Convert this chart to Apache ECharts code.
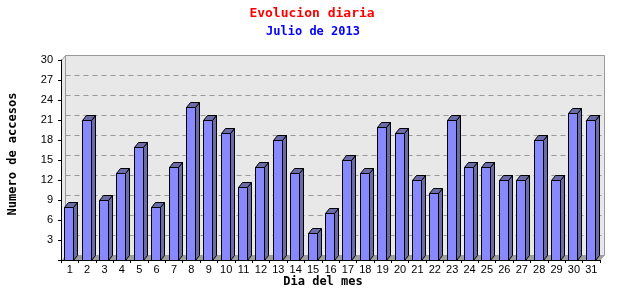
<!DOCTYPE html>
<html><head><meta charset="utf-8">
<script src="https://cdn.jsdelivr.net/npm/echarts@6/dist/echarts.min.js"></script>
<style>html,body{margin:0;padding:0;background:#fff}#c{width:640px;height:300px}</style>
</head><body><div id="c"></div>
<script>
const titleText = 'Evolucion diaria';
const subtitleText = 'Julio de 2013';
const yName = 'Numero de accesos';
const xName = 'Dia del mes';
const days = ['1','2','3','4','5','6','7','8','9','10','11','12','13','14','15','16','17','18','19','20','21','22','23','24','25','26','27','28','29','30','31'];
const visits = [8,21,9,13,17,8,14,23,21,19,11,14,18,13,4,7,15,13,20,19,12,10,21,14,14,12,12,18,12,22,21];
const yMin = 0, yMax = 30, yStep = 3;

const DX = 4, DY = 5, BAR_W = 9;
const mono = '"DejaVu Sans Mono", monospace';

function px(v){ return Math.round(v) + 0.5; }

function renderWall(params, api){
  const bw = api.size([1, 0])[0];
  const p0 = api.coord([0, yMin]);
  const pN = api.coord([days.length - 1, yMin]);
  const xl = px(p0[0] - bw/2), xr = px(pN[0] + bw/2);
  const yb = px(p0[1]);
  const yt = px(api.coord([0, yMax])[1]);
  const ch = [];
  // left wall
  ch.push({type:'polygon', shape:{points:[[xl,yt],[xl+DX,yt-DY],[xl+DX,yb-DY],[xl,yb]]}, style:{fill:'#e8e8e8'}});
  // back wall
  ch.push({type:'rect', shape:{x:xl+DX, y:yt-DY, width:xr-xl, height:yb-yt}, style:{fill:'#e8e8e8', stroke:'#999', lineWidth:1}});
  // floor
  ch.push({type:'polygon', shape:{points:[[xl,yb],[xl+DX,yb-DY],[xr+DX,yb-DY],[xr,yb]]}, style:{fill:'#a0a0a0'}});
  // grid lines
  for (let v = yMin + yStep; v < yMax; v += yStep) {
    const y = px(api.coord([0, v])[1]) - DY;
    ch.push({type:'line', shape:{x1:xl+DX, y1:y, x2:xr+DX, y2:y}, style:{stroke:'#999', lineWidth:1, lineDash:[5,4]}});
  }
  // top-left diagonal
  ch.push({type:'line', shape:{x1:xl, y1:yt, x2:xl+DX, y2:yt-DY}, style:{stroke:'#999', lineWidth:1}});
  return {type:'group', children:ch};
}

function renderBar(params, api){
  const i = api.value(0), v = api.value(1);
  const top = api.coord([i, v]);
  const base = api.coord([i, yMin]);
  const x0 = px(top[0] - 5.5), x1 = x0 + BAR_W;
  const yt = px(top[1]), yb = px(base[1]);
  const dark = '#6b6ba8';
  return {type:'group', children:[
    {type:'polygon', shape:{points:[[x1,yt],[x1+DX,yt-DY],[x1+DX,yb-DY],[x1,yb]]}, style:{fill:dark, stroke:'#000', lineWidth:1}},
    {type:'polygon', shape:{points:[[x0,yt],[x0+DX,yt-DY],[x1+DX,yt-DY],[x1,yt]]}, style:{fill:dark, stroke:'#000', lineWidth:1}},
    {type:'rect', shape:{x:x0, y:yt, width:BAR_W, height:yb-yt}, style:{fill:'#8888ff', stroke:'#000', lineWidth:1}}
  ]};
}

const chart = echarts.init(document.getElementById('c'), null, {renderer:'canvas'});
chart.setOption({
  animation:false,
  backgroundColor:'#fff',
  grid:{left:61, right:40, top:60, bottom:40},
  xAxis:{
    type:'category', data:days, boundaryGap:true,
    axisLine:{show:true, lineStyle:{color:'#000', width:1}},
    axisTick:{show:true, length:3, lineStyle:{color:'#000'}},
    axisLabel:{color:'#000', fontSize:11, fontFamily:'"Liberation Sans", sans-serif', margin:4, interval:0},
    splitLine:{show:false}, z:10
  },
  yAxis:{
    type:'value', min:yMin, max:yMax, interval:yStep,
    axisLine:{show:true, lineStyle:{color:'#000', width:1}},
    axisTick:{show:true, length:3, lineStyle:{color:'#000'}},
    axisLabel:{color:'#000', fontSize:11, fontFamily:'"Liberation Sans", sans-serif', margin:8,
      formatter: v => v === 0 ? '' : String(v)},
    splitLine:{show:false}, z:10
  },
  graphic:[
    {type:'text', x:312, y:14, style:{text:titleText, fill:'#ff0000', font:'bold 13px '+mono, textAlign:'center', textVerticalAlign:'middle'}},
    {type:'text', x:313, y:32, style:{text:subtitleText, fill:'#0000ff', font:'bold 12px '+mono, textAlign:'center', textVerticalAlign:'middle'}},
    {type:'text', x:13, y:154, rotation:Math.PI/2, style:{text:yName, fill:'#000', font:'bold 12px '+mono, textAlign:'center', textVerticalAlign:'middle'}},
    {type:'text', x:323, y:282, style:{text:xName, fill:'#000', font:'bold 12px '+mono, textAlign:'center', textVerticalAlign:'middle'}}
  ],
  series:[
    {type:'custom', renderItem:renderWall, data:[[0,0]], encode:{x:0,y:1}, z:1, silent:true, clip:false},
    {type:'custom', renderItem:renderBar, data:visits.map((v,i)=>[i,v]), encode:{x:0,y:1}, z:5, clip:false}
  ]
});
</script></body></html>
